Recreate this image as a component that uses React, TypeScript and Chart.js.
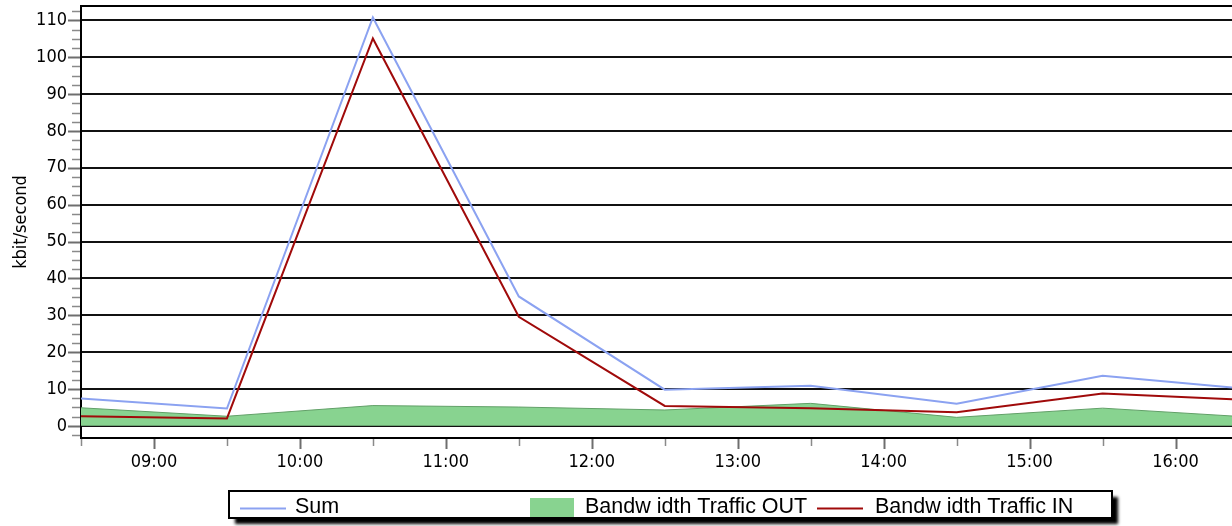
import React, { useEffect, useRef } from 'react';
import { Chart, registerables } from 'chart.js';

Chart.register(...registerables);

// ---- data ----
const hours = [8.5, 9.5, 10.5, 11.5, 12.5, 13.5, 14.5, 15.5, 16.5];
const sumValues = [7.4, 4.7, 110.8, 35.1, 9.8, 10.9, 6.0, 13.6, 10.0];
const inValues = [2.6, 2.0, 105.1, 29.6, 5.4, 4.8, 3.7, 8.8, 7.0];
const outValues = [4.9, 2.6, 5.5, 5.1, 4.3, 6.1, 2.3, 4.8, 2.4];
const xTickHours = [9, 10, 11, 12, 13, 14, 15, 16];
const xTickLabels = ['09:00', '10:00', '11:00', '12:00', '13:00', '14:00', '15:00', '16:00'];
const yTickValues = [0, 10, 20, 30, 40, 50, 60, 70, 80, 90, 100, 110];
const seriesLabels = ['Sum', 'Bandw idth Traffic OUT', 'Bandw idth Traffic IN'];
const yTitle = 'kbit/second';

const BLUE = '#8ba2f1';
const RED = '#a00a0a';
const GREEN = '#88d390';
const GREEN_EDGE = '#62a068';

const TICK_FONT = "'DejaVu Sans Condensed', 'DejaVu Sans', sans-serif";
const LEGEND_FONT = "'Liberation Sans', Arial, sans-serif";

const toPoints = (vals: number[]) => hours.map((h, i) => ({ x: h, y: vals[i] }));

const decorPlugin = {
  id: 'decor',
  afterDraw(chart: any) {
    const { ctx, chartArea, scales } = chart;
    const xs = scales.x;
    const ys = scales.y;
    ctx.save();
    // top border of plot
    ctx.strokeStyle = '#000';
    ctx.lineWidth = 2;
    ctx.beginPath();
    ctx.moveTo(chartArea.left - 1, chartArea.top);
    ctx.lineTo(chartArea.right, chartArea.top);
    ctx.stroke();

    // y tick marks (major + minor)
    const yStart = Math.ceil(ys.min / 2.5) * 2.5;
    for (let v = yStart; v <= ys.max + 1e-9; v += 2.5) {
      const py = Math.round(ys.getPixelForValue(v)) + 0.5;
      const major = Math.abs(v % 10) < 1e-6;
      ctx.strokeStyle = major ? '#6e6e6e' : '#8a8a8a';
      ctx.lineWidth = major ? 2 : 1.5;
      ctx.beginPath();
      ctx.moveTo(chartArea.left - (major ? 13 : 9), py);
      ctx.lineTo(chartArea.left - 1, py);
      ctx.stroke();
    }
    // x tick marks (major hours + minor half hours)
    for (let h = xs.min; h <= xs.max + 1e-9; h += 0.5) {
      const px = Math.round(xs.getPixelForValue(h)) + 0.5;
      const major = Math.abs(h - Math.round(h)) < 1e-6;
      ctx.strokeStyle = major ? '#6e6e6e' : '#8a8a8a';
      ctx.lineWidth = major ? 2 : 1.5;
      ctx.beginPath();
      ctx.moveTo(px, chartArea.bottom + 1);
      ctx.lineTo(px, chartArea.bottom + (major ? 11 : 8));
      ctx.stroke();
    }
    ctx.restore();

    // legend
    const ds = chart.data.datasets;
    const find = (label: string) => ds.find((d: any) => d.label === label);
    const bx = 229, by = 491, bw = 883, bh = 27;
    ctx.save();
    ctx.shadowColor = 'rgba(0,0,0,1)';
    ctx.shadowBlur = 3;
    ctx.shadowOffsetX = 6;
    ctx.shadowOffsetY = 6;
    ctx.fillStyle = '#fff';
    ctx.fillRect(bx, by, bw, bh);
    ctx.restore();
    ctx.save();
    ctx.strokeStyle = '#000';
    ctx.lineWidth = 2;
    ctx.strokeRect(bx, by, bw, bh);

    const items = [
      { label: seriesLabels[0], kind: 'line', sx: 240, sw: 46, tx: 295 },
      { label: seriesLabels[1], kind: 'box', sx: 530, sw: 44, tx: 585 },
      { label: seriesLabels[2], kind: 'line', sx: 817, sw: 46, tx: 875 },
    ];
    ctx.font = `21.5px ${LEGEND_FONT}`;
    ctx.textBaseline = 'middle';
    ctx.textAlign = 'left';
    for (const it of items) {
      const d: any = find(it.label);
      if (!d) continue;
      if (it.kind === 'line') {
        ctx.strokeStyle = d.borderColor;
        ctx.lineWidth = 2;
        ctx.beginPath();
        ctx.moveTo(it.sx, 508.5);
        ctx.lineTo(it.sx + it.sw, 508.5);
        ctx.stroke();
      } else {
        ctx.fillStyle = d.backgroundColor;
        ctx.fillRect(it.sx, 498, it.sw, 19);
      }
      ctx.fillStyle = '#000';
      ctx.fillText(it.label, it.tx, 507);
    }
    ctx.restore();
  },
};

export default function App() {
  const ref = useRef<HTMLCanvasElement | null>(null);

  useEffect(() => {
    if (!ref.current) return;
    const chart = new Chart(ref.current, {
      type: 'line',
      data: {
        datasets: [
          {
            label: seriesLabels[0],
            data: toPoints(sumValues),
            borderColor: BLUE,
            backgroundColor: BLUE,
            borderWidth: 2,
            pointRadius: 0,
            fill: false,
            tension: 0,
          },
          {
            label: seriesLabels[2],
            data: toPoints(inValues),
            borderColor: RED,
            backgroundColor: RED,
            borderWidth: 2,
            pointRadius: 0,
            fill: false,
            tension: 0,
          },
          {
            label: seriesLabels[1],
            data: toPoints(outValues),
            borderColor: GREEN_EDGE,
            backgroundColor: GREEN,
            borderWidth: 1,
            pointRadius: 0,
            fill: 'origin',
            tension: 0,
          },
        ],
      },
      options: {
        responsive: false,
        animation: false,
        events: [],
        layout: { padding: { top: 6, left: 0, right: 0, bottom: 0 } },
        plugins: {
          legend: { display: false },
          tooltip: { enabled: false },
          title: { display: false },
        },
        scales: {
          x: {
            type: 'linear',
            min: 8.5,
            max: 16.387,
            afterBuildTicks: (scale: any) => {
              scale.ticks = xTickHours.map((v) => ({ value: v }));
            },
            afterFit: (scale: any) => {
              scale.height = 88;
              scale.paddingLeft = 0;
              scale.paddingRight = 0;
              scale.paddingTop = 0;
              scale.paddingBottom = 0;
            },
            grid: { display: false, drawTicks: false },
            border: { display: true, color: '#000', width: 2 },
            ticks: {
              autoSkip: false,
              maxRotation: 0,
              padding: 14,
              color: '#000',
              font: { family: TICK_FONT, size: 18 },
              callback: (value: any) => {
                const i = xTickHours.indexOf(Number(value));
                return i >= 0 ? xTickLabels[i] : '';
              },
            },
          },
          y: {
            type: 'linear',
            min: -3.3,
            max: 113.9,
            afterBuildTicks: (scale: any) => {
              scale.ticks = yTickValues.map((v) => ({ value: v }));
            },
            afterFit: (scale: any) => {
              scale.width = 81;
              scale.paddingLeft = 0;
              scale.paddingRight = 0;
              scale.paddingTop = 0;
              scale.paddingBottom = 0;
            },
            grid: { display: true, color: '#111', lineWidth: 2, drawTicks: false },
            border: { display: true, color: '#000', width: 2 },
            ticks: {
              padding: 14,
              color: '#000',
              font: { family: TICK_FONT, size: 18 },
            },
            title: {
              display: true,
              text: yTitle,
              color: '#000',
              font: { family: TICK_FONT, size: 18 },
              padding: { top: 11, bottom: 0 },
            },
          },
        },
      },
      plugins: [decorPlugin],
    });
    return () => chart.destroy();
  }, []);

  return (
    <div style={{ position: 'fixed', left: 0, top: 0, width: 1232, height: 526, background: '#fff' }}>
      <canvas ref={ref} width={1232} height={526} style={{ display: 'block' }} />
    </div>
  );
}
